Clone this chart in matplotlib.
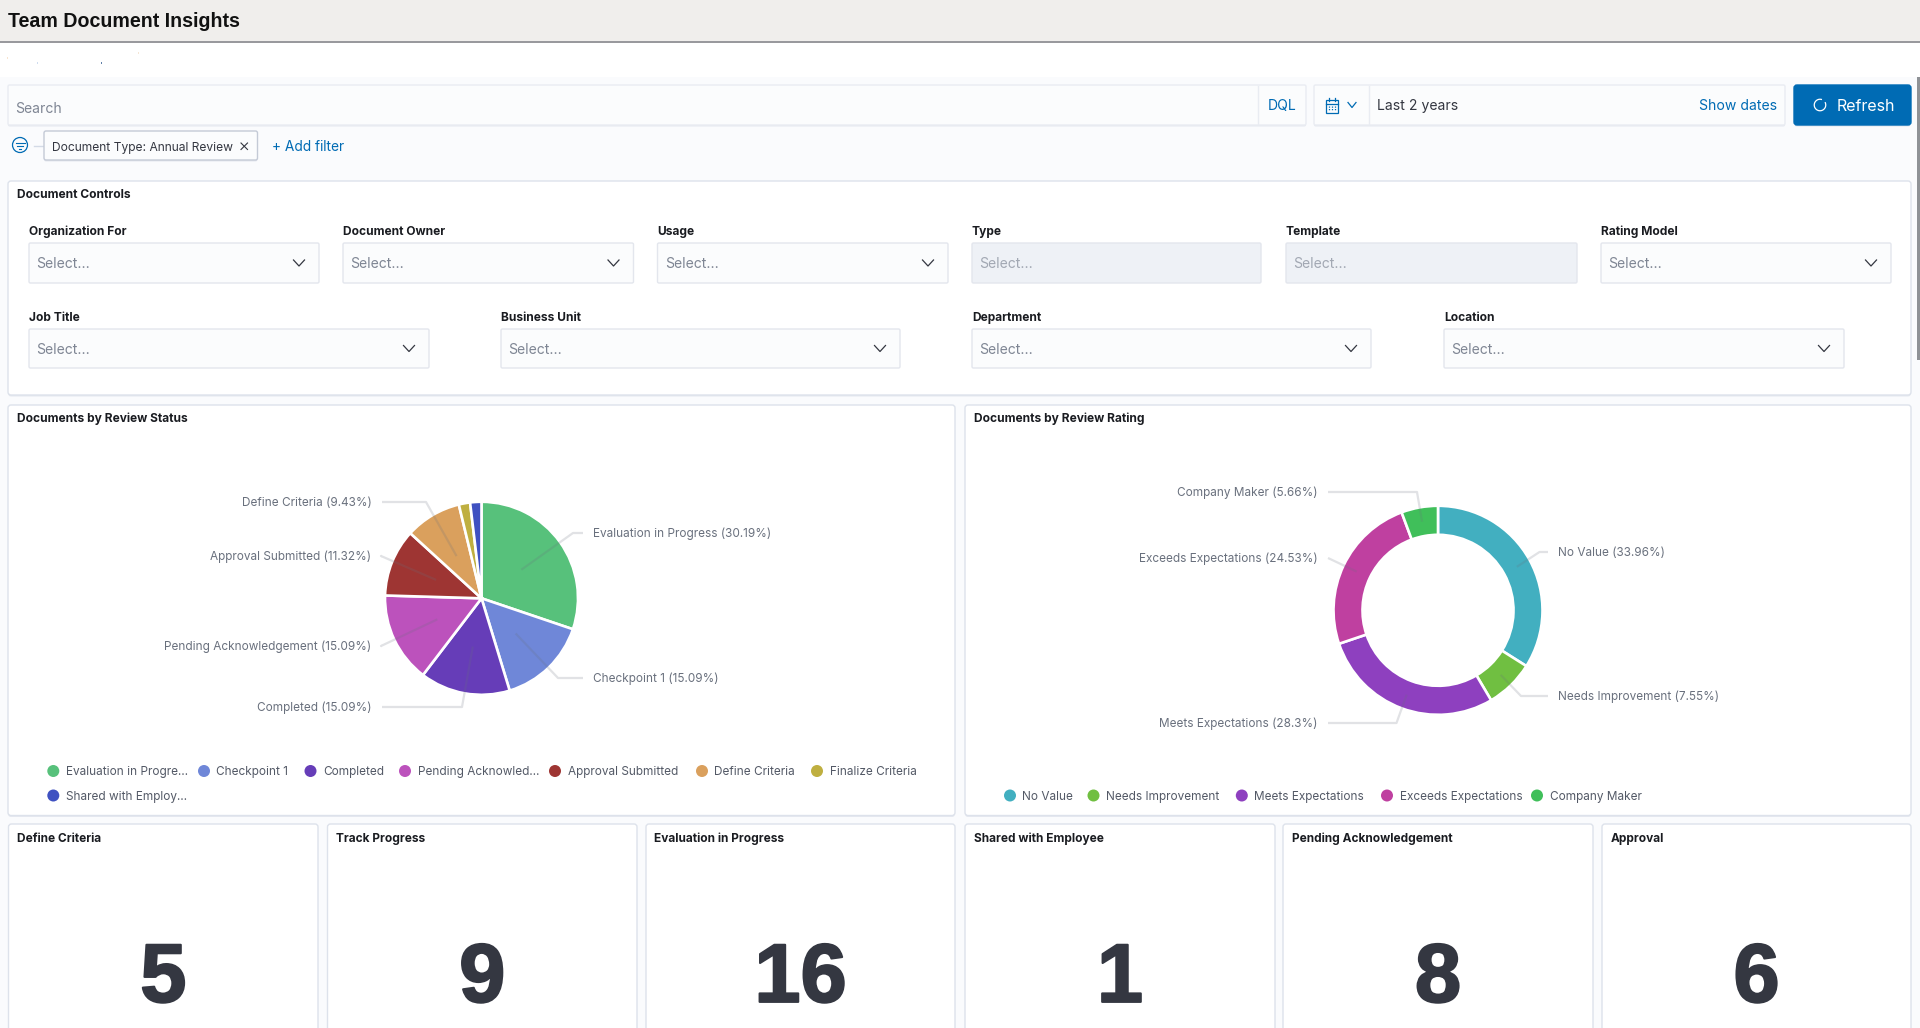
import numpy as np
import matplotlib
matplotlib.use("Agg")
import matplotlib.pyplot as plt
import matplotlib.patheffects as pe
from matplotlib.patches import FancyBboxPatch, Rectangle, Circle, Arc

# ---- data ----
status_names = ["Evaluation in Progress", "Checkpoint 1", "Completed", "Pending Acknowledgement",
                "Approval Submitted", "Define Criteria", "Finalize Criteria", "Shared with Employee"]
status_values = [30.19, 15.09, 15.09, 15.09, 11.32, 9.43, 1.89, 1.89]
status_colors = ["#57c17b", "#6f87d8", "#663db8", "#bc52bc", "#9e3533", "#daa05d", "#bfaf40", "#3f51c1"]
status_legend = ["Evaluation in Progre\u2026", "Checkpoint 1", "Completed", "Pending Acknowled\u2026",
                 "Approval Submitted", "Define Criteria", "Finalize Criteria", "Shared with Employ\u2026"]

rating_names = ["No Value", "Needs Improvement", "Meets Expectations", "Exceeds Expectations", "Company Maker"]
rating_values = [33.96, 7.55, 28.3, 24.53, 5.66]
rating_colors = ["#42afc0", "#70bf41", "#8e40bf", "#bf40a0", "#40bf5a"]

metric_titles = ["Define Criteria", "Track Progress", "Evaluation in Progress",
                 "Shared with Employee", "Pending Acknowledgement", "Approval"]
metric_values = [5, 9, 16, 1, 8, 6]

row1_labels = ["Organization For", "Document Owner", "Usage", "Type", "Template", "Rating Model"]
row2_labels = ["Job Title", "Business Unit", "Department", "Location"]

# ---- layout ----
W, H = 1920, 1028
plt.rcParams['font.family'] = ['Inter', 'DejaVu Sans']
fig = plt.figure(figsize=(W / 100, H / 100), dpi=100, facecolor='white')

def overlay(z):
    a = fig.add_axes([0, 0, 1, 1], zorder=z)
    a.set_xlim(0, W); a.set_ylim(H, 0); a.axis('off'); a.patch.set_alpha(0)
    return a

bg = overlay(0)
top = overlay(2)

def px(size):
    return size * 0.72

def T(a, x, y, s, size=12, color='#69707d', weight='normal', ha='left', family=None):
    kw = {'family': family} if family else {}
    return a.text(x, y + 0.36 * size, s, fontsize=px(size), color=color, fontweight=weight, ha=ha, va='baseline', **kw)

def box(x0, y0, x1, y1, fc='#fbfcfd', ec='#e9ecf2', r=1.5, shadow='#e6e9f0', lw=1.0):
    if shadow:
        bg.add_patch(FancyBboxPatch((x0, y0 + 1.5), x1 - x0, y1 - y0, boxstyle=f"round,pad=0,rounding_size={r}",
                                    fc=shadow, ec='none', zorder=2))
    bg.add_patch(FancyBboxPatch((x0, y0), x1 - x0, y1 - y0, boxstyle=f"round,pad=0,rounding_size={r}",
                                fc=fc, ec=ec, lw=lw, zorder=3))

def chevron(x, y, w=5.5, h=3, color='#343741'):
    bg.plot([x - w, x, x + w], [y - h, y + h, y - h], color=color, lw=0.9, zorder=5)

# page
bg.add_patch(Rectangle((0, 77), W, H - 77, fc='#fafbfd', ec='none', zorder=0))
bg.add_patch(Rectangle((0, 0), W, 41, fc='#f0eeec', ec='none', zorder=1))
bg.plot([0, W], [41.5, 41.5], color='#85858a', lw=1.2, zorder=2)
T(bg, 8, 20, "Team Document Insights", size=19.6, color='#111111', weight='bold', family='Liberation Sans')
bg.add_patch(Rectangle((1916.5, 77), 3, 283, fc='#8f9296', ec='none', zorder=4))
for sx, sy, sc in ((7, 57, '#f7e3cf'), (37, 62, '#cfdcef'), (101, 62, '#5f7fa8'), (138, 52, '#f5e6d5')):
    bg.add_patch(Rectangle((sx, sy), 1, 2, fc=sc, ec='none', zorder=2))

# query bar
box(8, 85, 1306, 125)
bg.plot([1258, 1258], [86, 124], color='#e9ecf2', lw=1, zorder=5)
T(bg, 15.5, 108, "Search", size=14, color='#7f8694')
T(bg, 1268, 105, "DQL", size=14, color='#006bb4')
box(1314, 85, 1785, 125)
bg.plot([1368.5, 1368.5], [86, 124], color='#e9ecf2', lw=1, zorder=5)
bg.add_patch(Rectangle((1325.5, 100), 12, 12.5, fc='none', ec='#006bb4', lw=0.9, zorder=5))
bg.plot([1325.5, 1337.5], [103.5, 103.5], color='#006bb4', lw=0.9, zorder=5)
for dx in (3, 6, 9):
    bg.plot([1325.5 + dx] * 2, [105.5, 111], color='#006bb4', lw=0.9, ls=(0, (1, 1)), zorder=5)
bg.plot([1328.5, 1328.5], [98, 101], color='#006bb4', lw=0.9, zorder=5)
bg.plot([1334.5, 1334.5], [98, 101], color='#006bb4', lw=0.9, zorder=5)
chevron(1352, 105, w=4, h=2.5, color='#006bb4')
T(bg, 1377, 105, "Last 2 years", size=14, color='#343741')
T(bg, 1777, 105, "Show dates", size=14, color='#006bb4', ha='right')
box(1794, 85, 1911, 125, fc='#006bb4', ec='#006bb4', r=3, shadow='#dfe4ec')
bg.add_patch(Arc((1820, 105), 11.5, 11.5, theta1=-30, theta2=290, ec='white', lw=0.9, zorder=6))
T(bg, 1837, 105, "Refresh", size=16, color='white')

# filter row
bg.add_patch(Circle((20, 145), 7.5, fc='none', ec='#006bb4', lw=0.9, zorder=5))
for half, yy in ((4.5, 142.5), (3, 145.5), (1, 148.5)):
    bg.plot([20 - half, 20 + half], [yy, yy], color='#006bb4', lw=0.8, zorder=5)
bg.plot([34, 44], [146, 146], color='#d3dae6', lw=1, zorder=1)
box(44, 131, 257.5, 160, fc='#fbfcfd', ec='#c4cad6', r=2)
T(bg, 52, 146.5, "Document Type: Annual Review", size=12.05, color='#343741')
bg.plot([241, 247.5], [143, 149.5], color='#343741', lw=0.8, zorder=6)
bg.plot([241, 247.5], [149.5, 143], color='#343741', lw=0.8, zorder=6)
T(bg, 271.5, 146, "+ Add filter", size=13.7, color='#006bb4')

# controls panel
box(8, 181, 1911, 395, fc='white', ec='#dde2eb', r=3)
T(bg, 17, 194, "Document Controls", size=12, color='#1a1c21', weight='bold')
row1_x = [(29, 319), (343, 633.5), (657.5, 948), (972, 1261), (1286, 1577), (1601, 1891)]
row2_x = [(29, 429), (501, 900), (972, 1371), (1444, 1844)]
disabled = {"Type", "Template"}
for labels, xs, ly, y0, y1 in ((row1_labels, row1_x, 230.5, 243, 283), (row2_labels, row2_x, 316.5, 329, 368)):
    for name, (x0, x1) in zip(labels, xs):
        T(bg, x0, ly, name, size=12, color='#1a1c21', weight='bold')
        off = name in disabled
        box(x0, y0, x1, y1, fc='#eef1f6' if off else '#fbfcfd', ec='#e3e6ed', shadow=None if off else '#e6e9f0')
        T(bg, x0 + 7.5, (y0 + y1) / 2, "Select...", size=14, color='#a2a8b3' if off else '#7f8694')
        if not off:
            chevron(x1 - 20, (y0 + y1) / 2)

# chart panels
for x0, x1, title in ((8, 955, "Documents by Review Status"), (965, 1911, "Documents by Review Rating")):
    box(x0, 405, x1, 815.5, fc='white', ec='#dde2eb', r=3)
    T(bg, x0 + 9, 417.5, title, size=12, color='#1a1c21', weight='bold')

def ring(cx, cy, R, values, colors, width=None):
    ax = fig.add_axes([(cx - R - 2) / W, 1 - (cy + R + 2) / H, (2 * R + 4) / W, (2 * R + 4) / H], zorder=1)
    wp = dict(edgecolor='white', linewidth=1.9)
    if width:
        wp['width'] = width
    ax.pie(values, colors=colors, startangle=90, counterclock=False, radius=1, wedgeprops=wp)
    lim = (R + 2) / R
    ax.set_xlim(-lim, lim); ax.set_ylim(-lim, lim)
    ax.patch.set_alpha(0)

def mid_angles(values):
    v = np.asarray(values, float)
    c = np.cumsum(v) - v / 2
    return c / v.sum() * 2 * np.pi

LINE = dict(color='#69707d', alpha=0.2, lw=1.6, solid_joinstyle='round', solid_capstyle='butt')

def leaders(cx, cy, r, values, total, names, layout):
    angles = mid_angles(list(values) + [total - sum(values)]) if total - sum(values) > 0.01 else mid_angles(values)
    for ang, name, val, (side, ly, elbow) in zip(angles, names, values, layout):
        sx, sy = cx + r * np.sin(ang), cy - r * np.cos(ang)
        label = f"{name} ({val}%)"
        if side == 'L':
            T(top, cx - LEFT[cx], ly, label, size=11.8, ha='right')
            ex = cx - LEFT[cx] + 10.5
        else:
            T(top, cx + RIGHT[cx], ly, label, size=11.8)
            ex = cx + RIGHT[cx] - 10
        top.plot([ex, elbow, sx], [ly, ly, sy], **LINE)

LEFT = {481.5: 110, 1438: 120.5}
RIGHT = {481.5: 111.5, 1438: 120}

ring(481.5, 598.3, 96.5, status_values, status_colors)
leaders(481.5, 598.3, 49, status_values[:6], sum(status_values), status_names[:6],
        [('R', 533, 573), ('R', 678, 558), ('L', 707, 462), ('L', 646, 381), ('L', 556, 381), ('L', 502, 426)])

ring(1438, 610.3, 104.5, rating_values, rating_colors, width=29 / 104.5)
leaders(1438, 610.3, 90, rating_values, sum(rating_values), rating_names,
        [('R', 552, 1539.5), ('R', 696, 1521), ('L', 723, 1396.5), ('L', 558, 1328), ('L', 492, 1417)])

# legends
L1 = [(53.3, 771), (204, 771), (310.5, 771), (405, 771), (555, 771), (702, 771), (817, 771), (53.3, 795.5)]
for (x, y), name, col in zip(L1, status_legend, status_colors):
    bg.add_patch(Circle((x, y), 6, fc=col, ec='none', zorder=5))
    T(bg, x + 12.5, y, name, size=11.8, color='#535966')
L2 = [(1010, 795.5), (1093.5, 795.5), (1241.8, 795.5), (1387, 795.5), (1537, 795.5)]
for (x, y), name, col in zip(L2, rating_names, rating_colors):
    bg.add_patch(Circle((x, y), 6, fc=col, ec='none', zorder=5))
    T(bg, x + 12.5, y, name, size=11.8, color='#535966')

# metric tiles
tiles = [(8.5, 318), (327.5, 637), (646, 955), (965, 1275), (1283, 1593), (1602, 1911)]
for (x0, x1), title, val in zip(tiles, metric_titles, metric_values):
    box(x0, 824, x1, 1040, fc='white', ec='#dde2eb', r=3, shadow=None)
    T(bg, x0 + 8.5, 838, title, size=11.9, color='#1a1c21', weight='bold')
    t = T(bg, (x0 + x1) / 2, 972, str(val), size=83, color='#343741', weight='bold', ha='center', family='Liberation Sans')
    t.set_path_effects([pe.withStroke(linewidth=1.5, foreground='#343741')])

fig.savefig("out.png", dpi=100, facecolor='white')
